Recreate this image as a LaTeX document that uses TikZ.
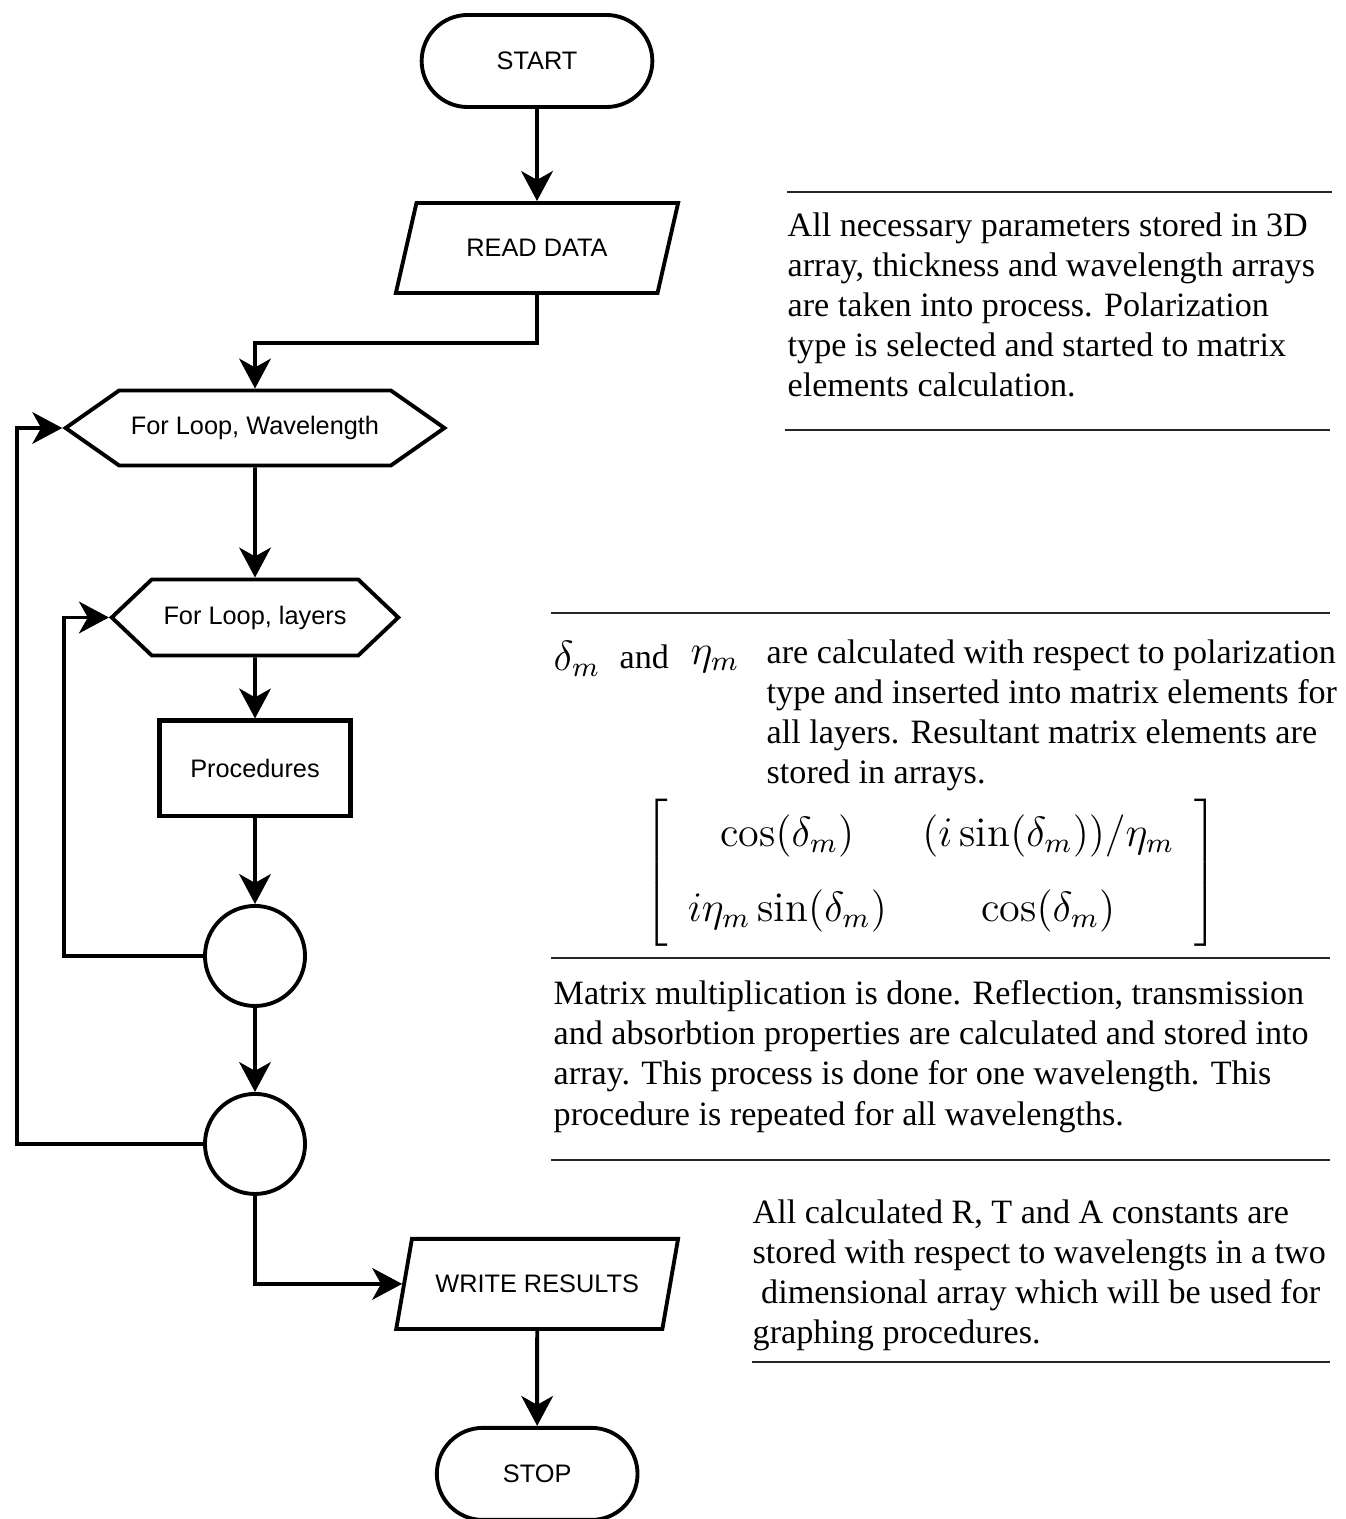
\documentclass[tikz,border=0pt]{standalone}
\usepackage{fontspec}
\usepackage{amsmath}
\usetikzlibrary{arrows.meta,positioning,shapes.geometric,shapes.misc,shapes.symbols,matrix}
\newfontfamily\labelfont{Liberation Sans}
\newfontfamily\notefont{Liberation Serif}
\newcommand{\labelsize}{\labelfont\fontsize{7.2}{8.6}\selectfont}
\newcommand{\notesize}{\notefont\fontsize{9.7}{11.4}\selectfont}

\begin{document}
\begin{tikzpicture}[
    x=0.01cm, y=-0.01cm,
    flow/.style={-{Stealth[length=8.5pt,width=9pt,inset=2.5pt]}, line width=1.1pt},
    terminal/.style={draw, rounded rectangle, line width=1.1pt, minimum height=0.92cm, font=\labelsize},
    inout/.style={draw, trapezium, trapezium left angle=71, trapezium right angle=109, trapezium stretches=true, line width=1.1pt, minimum width=2.83cm, minimum height=0.9cm, font=\labelsize},
    loophex/.style={draw, signal, signal to=east and west, line width=1.1pt, font=\labelsize},
    procbox/.style={draw, rectangle, line width=1.4pt, minimum width=1.9cm, minimum height=0.95cm, font=\labelsize},
    joint/.style={draw, circle, line width=1.1pt, minimum size=1cm, inner sep=0pt},
    note/.style={anchor=north west, inner sep=0pt, align=left, font=\notesize},
    mathtxt/.style={inner sep=0pt, font=\fontsize{12}{14}\selectfont},
    rule/.style={line width=0.8pt, black!85}
]
\useasboundingbox (0,0) rectangle (1345,1519);

% flow chart
\node[terminal, minimum width=2.54cm] (start) at (537,61) {START};
\node[inout, below=0.92cm of start] (readdata) {READ DATA};
\node[loophex, minimum width=3.77cm, minimum height=0.75cm, signal pointer angle=70] (wlloop) at (255,428) {For Loop, Wavelength};
\node[loophex, minimum width=2.83cm, minimum height=0.76cm, signal pointer angle=87, below=1.10cm of wlloop] (layloop) {For Loop, layers};
\node[procbox, below=0.61cm of layloop] (proc) {Procedures};
\node[joint, below=0.855cm of proc] (jlay) {};
\node[joint, below=0.84cm of jlay] (jwl) {};
\node[inout, below=0.41cm of jwl, xshift=2.82cm] (write) {WRITE RESULTS};
\node[terminal, minimum width=2.24cm, below=0.95cm of write] (stop) {STOP};

\coordinate (rdturn) at (255,343);
\draw[flow] (start) -- (readdata);
\draw[flow] (readdata.south) |- (rdturn) -- (wlloop.north);
\draw[flow] (wlloop) -- (layloop);
\draw[flow] (layloop) -- (proc);
\draw[flow] (proc) -- (jlay);
\draw[flow] (jlay) -- (jwl);
\draw[flow] (jlay.west) -- ++(-139,0) |- (layloop.west);
\draw[flow] (jwl.west) -- ++(-186,0) |- (wlloop.west);
\draw[flow] (jwl.south) |- (write.west);
\draw[flow] (write) -- (stop);

% notes on the right
\draw[rule] (787,192) -- (1332,192);
\node[note] (note1) at (787,212) {All necessary parameters stored in 3D\\
  array, thickness and wavelength arrays\\
  are taken into process. Polarization\\
  type is selected and started to matrix\\
  elements calculation.};
\draw[rule] (785,430) -- (1330,430);

\draw[rule] (551,613) -- (1330,613);
\node[mathtxt, anchor=base west] (delta) at (553,670) {$\delta_m$};
\node[note, anchor=base west] (andword) at (619,668) {and};
\node[mathtxt, anchor=base west] (eta) at (690,664) {$\eta_m$};
\node[note] (note2) at (766,639) {are calculated with respect to polarization\\
  type and inserted into matrix elements for\\
  all layers. Resultant matrix elements are\\
  stored in arrays.};
\matrix (mat) [matrix of math nodes, inner xsep=4.3pt, inner ysep=0pt, column sep=0.355cm,
  nodes={minimum height=0.75cm, inner sep=0pt, font=\fontsize{12}{14}\selectfont},
  left delimiter={[}, right delimiter={]}] at (931,873) {
  \cos(\delta_m) & (i\sin(\delta_m))/\eta_m \\
  i\eta_m\sin(\delta_m) & \cos(\delta_m) \\
};
\draw[rule] (551,958) -- (1330,958);
\node[note] (note3) at (553,980) {Matrix multiplication is done. Reflection, transmission\\
  and absorbtion properties are calculated and stored into\\
  array. This process is done for one wavelength. This\\
  procedure is repeated for all wavelengths.};
\draw[rule] (551,1160) -- (1330,1160);
\node[note] (note4) at (752,1199) {All calculated R, T and A constants are\\
  stored with respect to wavelengts in a two\\
  \hspace{0.25em}dimensional array which will be used for\\
  graphing procedures.};
\draw[rule] (752,1362) -- (1330,1362);
\end{tikzpicture}
\end{document}
